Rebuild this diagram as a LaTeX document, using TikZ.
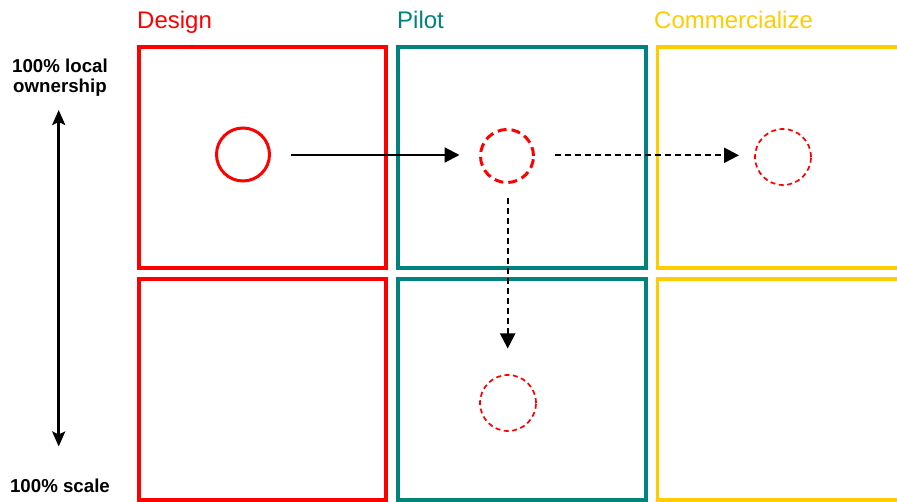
\documentclass[tikz,border=0pt]{standalone}
\usepackage{fontspec}
\setmainfont{Liberation Sans}
\usetikzlibrary{arrows.meta}
\definecolor{dred}{HTML}{FF0000}
\definecolor{dteal}{HTML}{00827F}
\definecolor{dyellow}{HTML}{FFCC00}
\tikzset{
  phase/.style={draw=#1, line width=3.3pt},
  title/.style={text=#1, font=\fontsize{24}{28}\selectfont, anchor=base west, inner sep=0pt},
  axislabel/.style={font=\bfseries\fontsize{18.7}{20}\selectfont, align=center, inner sep=0pt},
  dot/.style={circle, draw=dred, minimum size=53pt, inner sep=0pt},
  flow/.style={line width=2.2pt, -{Triangle[length=15pt, width=15pt]}},
  dflow/.style={flow, dash pattern=on 6pt off 4pt},
}
\begin{document}
\begin{tikzpicture}[x=1pt, y=-1pt]
\useasboundingbox (0,0) rectangle (897,502);
\clip (0,0) rectangle (897,502);
\fill[white] (0,0) rectangle (897,502);

% phase columns, two rows each
\draw[phase=dred]    (139,47) rectangle (386,268);
\draw[phase=dred]    (139,279) rectangle (386,500);
\draw[phase=dteal]   (398,47) rectangle (646,268);
\draw[phase=dteal]   (398,279) rectangle (646,500);
\draw[phase=dyellow] (920,47) -- (657.5,47) -- (657.5,268) -- (920,268);
\draw[phase=dyellow] (920,279) -- (657.5,279) -- (657.5,500) -- (920,500);

% column titles
\node[title=dred]    (tdesign) at (137,28.5) {Design};
\node[title=dteal]   (tpilot)  at (397,28.5) {Pilot};
\node[title=dyellow] (tcomm)   at (654,28.5) {Commercialize};

% vertical axis
\node[axislabel, anchor=base] (ltop) at (60,92.5) {100\% local\\ownership};
\node[axislabel, anchor=base] (lbot) at (60,492.5) {100\% scale};
\coordinate (atop) at (58.7,110);
\coordinate (abot) at (58.7,446.5);
\draw[line width=2.7pt, {Stealth[length=15pt, width=13pt, inset=3pt]}-{Stealth[length=15pt, width=13pt, inset=3pt]}] (atop) -- (abot);

% circles
\node[dot, line width=3pt] (c1) at (243,154.5) {};
\node[dot, line width=3pt, dash pattern=on 9pt off 5pt] (c2) at (507,156) {};
\node[dot, line width=1.7pt, minimum size=56pt, dash pattern=on 5pt off 3.5pt] (c3) at (783,157) {};
\node[dot, line width=1.7pt, minimum size=56pt, dash pattern=on 5pt off 3.5pt] (c4) at (508,403) {};

% arrows between circles
\coordinate (s1) at (291,155);
\coordinate (e1) at (459.5,155);
\draw[flow] (s1) -- (e1);
\coordinate (s2) at (555,155.3);
\coordinate (e2) at (739,155.3);
\draw[dflow] (s2) -- (e2);
\coordinate (s3) at (507.7,198);
\coordinate (e3) at (507.7,348.5);
\draw[dflow] (s3) -- (e3);
\end{tikzpicture}
\end{document}
